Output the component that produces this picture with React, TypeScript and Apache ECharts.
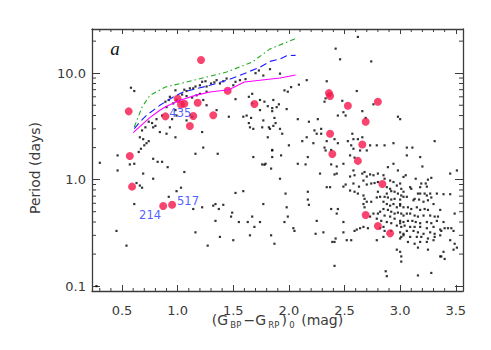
import React, { useEffect, useRef } from 'react';
import * as echarts from 'echarts';

// axis extents (colour index in mag, period in days)
const X_MIN = 0.23;
const X_MAX = 3.565;
const P_MIN = 0.09;
const P_MAX = 26;

// field stars: [colour, period]
const fieldUpperLeft: [number, number][] = [
  [0.58, 7.3], [0.61, 6.8], [0.98, 6.9], [1.06, 7.0], [1.08, 6.8], [1.11, 7.2], [1.14, 7.2], [1.16, 7.5], [1.2, 7.7], [1.22, 8.3],
  [1.25, 8.4], [1.26, 7.5], [1.3, 8.0], [1.33, 8.2], [1.35, 8.6], [1.38, 8.0], [1.41, 8.4], [1.44, 8.9], [1.5, 7.7], [1.52, 8.3],
  [1.56, 8.6], [1.61, 8.8], [1.7, 10.0], [1.73, 10.6], [1.77, 9.5], [1.83, 10.9], [1.92, 9.9], [1.04, 6.3], [1.08, 6.1], [1.13, 5.9],
  [1.17, 6.2], [1.2, 6.4], [1.26, 6.7], [0.93, 6.0], [0.92, 5.6], [0.89, 5.4], [0.9, 4.8], [0.96, 5.2], [0.99, 5.6], [0.98, 4.5],
  [1.23, 5.6], [1.52, 5.7], [1.67, 6.4], [1.64, 6.0], [1.74, 5.6], [1.78, 5.4], [1.81, 4.9], [1.86, 5.6], [1.89, 4.8], [1.67, 5.2],
  [1.74, 4.5], [1.59, 3.9], [1.62, 4.0], [1.66, 3.8], [1.77, 3.6], [1.64, 3.4], [1.65, 3.1], [1.68, 3.0], [1.76, 3.1], [1.82, 3.1],
  [1.86, 3.2], [1.81, 2.5], [1.46, 3.9], [1.35, 4.5], [1.13, 3.9], [0.99, 4.0], [0.93, 3.1], [0.77, 3.4], [0.8, 3.2], [0.78, 3.1],
  [0.74, 3.5], [0.71, 3.1], [0.68, 2.9], [0.66, 2.5], [0.69, 2.4], [0.72, 2.2], [0.74, 2.3], [0.84, 2.8], [0.9, 2.7], [0.98, 2.5],
  [1.23, 2.0], [0.95, 3.7], [0.86, 4.0], [0.81, 3.7], [1.22, 2.8], [1.08, 3.6], [1.26, 5.0],
];

const fieldUpperRight: [number, number][] = [
  [2.62, 21.9], [2.42, 17.0], [2.46, 13.5], [2.74, 12.9], [2.16, 8.6], [2.09, 7.8], [2.02, 7.4], [1.96, 6.9], [1.99, 6.7], [2.34, 8.4],
  [2.61, 6.8], [1.91, 5.1], [1.85, 4.7], [1.85, 4.4], [1.98, 4.6], [2.33, 5.8], [2.32, 5.4], [2.48, 5.5], [2.66, 4.4], [2.76, 5.1],
  [1.87, 3.8], [1.88, 3.4], [2.08, 3.7], [2.18, 3.5], [2.26, 3.7], [2.44, 4.0], [2.51, 4.0], [2.49, 4.3], [2.69, 3.8], [2.98, 3.9],
  [3.0, 3.7], [1.83, 3.0], [1.92, 3.0], [1.94, 2.7], [2.23, 2.9], [2.25, 2.7], [2.29, 3.0], [2.29, 2.7], [2.57, 2.7], [3.31, 2.3],
  [2.12, 2.3], [2.16, 2.5], [2.22, 2.2], [2.34, 2.3], [2.41, 2.4], [2.44, 2.2], [2.53, 2.3], [2.62, 2.4], [2.66, 2.5], [2.58, 2.4],
  [2.79, 2.1], [2.86, 2.1], [2.94, 2.2], [3.06, 2.0], [3.11, 2.0], [2.0, 2.1], [1.85, 1.9], [2.32, 2.0], [2.38, 1.9],
];

const fieldLowerLeft: [number, number][] = [
  [0.27, 0.1], [0.3, 1.44], [0.46, 1.69], [0.46, 1.22], [0.45, 0.33], [0.54, 0.24], [0.57, 1.39], [0.61, 1.41], [0.61, 0.59], [0.63, 0.93],
  [0.66, 0.88], [0.68, 0.84], [0.69, 1.14], [0.65, 1.82], [0.67, 1.95], [0.7, 2.1], [0.78, 1.57], [0.78, 1.02], [0.82, 1.47], [0.86, 1.47],
  [0.91, 1.31], [0.92, 0.69], [0.99, 0.78], [1.03, 0.84], [1.06, 1.18], [1.14, 0.53], [1.16, 1.75], [1.16, 0.32], [1.22, 0.55], [1.27, 0.24],
  [1.32, 0.57], [1.34, 0.59], [1.34, 0.41], [1.36, 1.75], [1.37, 0.53], [1.38, 0.29], [1.41, 0.58], [1.48, 0.45], [1.49, 0.49], [1.5, 0.27],
  [1.52, 0.75], [1.55, 0.4], [1.59, 0.78], [1.63, 0.4], [1.65, 0.3], [1.67, 0.45], [1.68, 1.63], [1.69, 0.36], [1.74, 0.4], [1.76, 1.39],
  [1.78, 1.38], [1.77, 0.59], [1.79, 1.41], [1.84, 1.27], [1.85, 1.88], [1.85, 1.63], [1.84, 0.3], [1.87, 0.25], [1.92, 1.02],
  [1.93, 1.69], [1.97, 0.74], [1.98, 0.55], [1.96, 0.4], [1.99, 0.45], [2.04, 0.35], [2.05, 0.33], [2.08, 1.41], [2.15, 1.39], [2.17, 1.63],
  [2.28, 1.14], [2.33, 1.88], [2.34, 0.85], [2.17, 0.77], [2.17, 0.65], [2.18, 0.58], [2.25, 0.41], [2.24, 0.31], [2.31, 0.32], [2.56, 2.1],
  [2.58, 1.95], [2.59, 1.61], [2.64, 1.88], [2.7, 1.88], [2.73, 2.1], [3.06, 1.69], [3.18, 1.63], [2.41, 0.155], [3.28, 0.133], [3.16, 0.126],
  [2.87, 0.138], [2.88, 0.124], [2.55, 1.69],
];

const fieldClusterWest: [number, number][] = [
  [2.38, 1.39], [2.43, 1.33], [2.49, 1.41], [2.41, 1.12], [2.43, 1.14], [2.55, 1.07], [2.58, 1.22], [2.59, 1.1], [2.58, 0.92], [2.51, 0.9],
  [2.49, 0.86], [2.55, 0.79], [2.59, 0.77], [2.63, 0.86], [2.66, 1.14], [2.68, 1.18], [2.7, 1.07], [2.73, 1.12], [2.76, 1.1], [2.8, 1.14],
  [2.85, 1.1], [2.86, 1.02], [2.67, 0.98], [2.7, 0.9], [2.74, 0.92], [2.77, 0.93], [2.8, 0.95], [2.89, 1.31], [2.94, 1.41], [2.98, 1.22],
  [3.03, 1.06], [2.91, 0.98], [2.94, 0.95], [2.97, 0.88], [3.0, 0.92], [3.01, 0.82], [2.88, 0.85], [2.91, 0.82], [2.92, 0.78], [2.95, 0.77],
  [2.98, 0.74], [3.01, 0.71], [2.88, 0.74], [2.86, 0.69], [2.89, 0.68], [2.92, 0.65], [2.95, 0.66], [3.0, 0.65], [3.03, 0.69], [2.85, 0.62],
  [2.88, 0.59], [2.91, 0.57], [2.94, 0.59], [2.97, 0.55], [3.0, 0.57], [3.03, 0.55], [2.8, 0.77], [2.82, 0.69], [2.79, 0.68], [2.67, 0.71],
  [2.68, 0.66], [2.7, 0.62], [2.67, 0.59], [2.74, 0.62], [2.68, 0.55], [2.62, 0.74], [2.85, 0.53], [2.89, 0.52], [2.92, 0.5], [2.95, 0.48],
  [2.98, 0.49], [3.01, 0.48], [3.03, 0.46], [2.82, 0.5], [2.86, 0.46], [2.91, 0.45], [2.95, 0.43], [3.0, 0.41], [3.03, 0.4], [2.79, 0.43],
  [2.83, 0.41], [2.88, 0.4], [2.92, 0.39], [2.97, 0.37], [3.01, 0.36], [2.85, 0.36], [2.8, 0.48], [2.76, 0.48], [2.73, 0.45], [2.67, 0.36],
  [2.64, 0.35], [2.59, 0.33], [2.61, 0.34], [2.71, 0.35], [2.82, 0.35], [2.86, 0.33], [2.92, 0.33], [3.0, 0.32], [3.03, 0.31], [3.0, 0.28],
  [3.01, 0.29], [2.79, 0.27], [2.85, 0.29], [2.52, 0.27], [2.56, 0.27], [2.49, 0.32], [2.38, 0.53], [2.43, 0.48], [2.44, 0.53], [2.49, 0.4],
  [2.37, 0.85], [2.39, 0.26], [2.42, 0.28], [2.41, 0.26], [3.0, 0.21], [2.97, 0.22], [3.01, 0.17], [3.01, 0.19],
];

const fieldClusterEast: [number, number][] = [
  [3.2, 1.33], [3.05, 1.1], [3.14, 1.02], [3.19, 0.92], [3.23, 0.92], [3.18, 0.85], [3.25, 1.0], [3.28, 1.04], [3.24, 0.86], [3.09, 0.85],
  [3.1, 0.82], [3.16, 0.74], [3.18, 0.74], [3.22, 0.74], [3.24, 0.71], [3.27, 0.74], [3.33, 0.74], [3.39, 0.73], [3.45, 0.73], [3.45, 1.14],
  [3.51, 1.22], [3.03, 0.77], [3.06, 0.69], [3.12, 0.64], [3.13, 0.66], [3.17, 0.65], [3.21, 0.62], [3.25, 0.64], [3.28, 0.68], [3.3, 0.59],
  [3.0, 0.59], [3.07, 0.55], [3.1, 0.53], [3.15, 0.55], [3.18, 0.52], [3.22, 0.53], [3.25, 0.52], [3.36, 0.52], [3.49, 0.48], [3.06, 0.48],
  [3.09, 0.48], [3.13, 0.46], [3.16, 0.45], [3.21, 0.46], [3.27, 0.46], [3.31, 0.45], [3.34, 0.45], [3.07, 0.41], [3.11, 0.41], [3.14, 0.4],
  [3.18, 0.39], [3.24, 0.4], [3.28, 0.39], [3.33, 0.41], [3.39, 0.4], [3.0, 0.39], [3.04, 0.37], [3.09, 0.36], [3.13, 0.36], [3.18, 0.36],
  [3.24, 0.35], [3.3, 0.36], [3.36, 0.34], [3.4, 0.35], [3.43, 0.35], [3.46, 0.35], [3.06, 0.33], [3.12, 0.33], [3.16, 0.32], [3.21, 0.31],
  [3.27, 0.32], [3.31, 0.31], [3.37, 0.33], [3.48, 0.33], [3.03, 0.3], [3.09, 0.29], [3.15, 0.29], [3.19, 0.29], [3.25, 0.28], [3.31, 0.29],
  [3.36, 0.3], [3.07, 0.26], [3.13, 0.25], [3.18, 0.26], [3.24, 0.26], [3.3, 0.27], [3.45, 0.27], [3.49, 0.25], [3.16, 0.23], [3.25, 0.22],
  [3.51, 0.23], [3.48, 0.22], [3.39, 0.21], [3.37, 0.19], [3.4, 0.18], [3.36, 0.19],
];

// highlighted members (red)
const members: [number, number][] = [
  [0.56, 4.38], [1.21, 13.3], [1.0, 5.76], [1.06, 5.17], [1.03, 5.09], [1.18, 5.28], [1.45, 6.85], [0.89, 3.93], [1.14, 3.96], [1.32, 4.02],
  [1.11, 3.19], [1.69, 5.13], [0.57, 1.67], [0.59, 0.86], [0.87, 0.565], [0.95, 0.582], [2.36, 6.5], [2.37, 6.1], [2.53, 4.95], [2.8, 5.4],
  [2.69, 3.5], [2.37, 2.7], [2.66, 2.14], [2.39, 1.74], [2.62, 1.5], [2.84, 0.91], [2.69, 0.465], [2.8, 0.367], [2.91, 0.313],
];

// model sequences
const curveSolid: [number, number][] = [
  [0.6, 2.76], [0.75, 3.82], [0.84, 4.48], [0.9, 4.89], [1.02, 5.56], [1.16, 6.19], [1.29, 6.65], [1.46, 7.0], [1.6, 8.26], [1.92, 9.0], [2.06, 9.6],
];
const curveDashed: [number, number][] = [
  [0.61, 3.01], [0.66, 3.48], [0.72, 4.02], [0.84, 4.99], [0.96, 5.97], [1.05, 6.65], [1.29, 7.69], [1.44, 8.57], [1.56, 9.55], [1.74, 11.4],
  [1.83, 12.9], [1.92, 13.6], [1.98, 14.6], [2.06, 14.7],
];
const curveDashDot: [number, number][] = [
  [0.61, 3.12], [0.68, 4.81], [0.75, 6.19], [0.89, 7.41], [1.14, 8.56], [1.44, 10.24], [1.67, 12.7], [1.83, 16.9], [2.06, 21.1],
];

// star identifiers
const idLabels = [
  { id: '435', x: 1.024, p: 4.19 },
  { id: '517', x: 1.093, p: 0.635 },
  { id: '214', x: 0.752, p: 0.465 },
];

// x-axis title pieces: [text, isSubscript]
const xTitlePieces: [string, boolean][] = [
  ['(G', false], ['BP', true], ['\u2212G', false], ['RP', true], [')', false], ['0', true], [' (mag)', false],
];

const yMinorTicks = [0.2, 0.3, 0.4, 0.5, 0.6, 0.7, 0.8, 0.9, 2, 3, 4, 5, 6, 7, 8, 9, 20];

const App = () => {
  const ref = useRef<HTMLDivElement>(null);
  useEffect(() => {
    const chart = echarts.init(ref.current!, null, { renderer: 'svg' });
    const axisColor = '#3c3c3c';
    const font = 'DejaVu Sans';
    const textColor = '#3a3a3a';
    const xFmt = (v: number) => (Math.abs(v * 2 - Math.round(v * 2)) < 1e-6 ? v.toFixed(1) : '');
    const yFmt = (v: number) => {
      const l = Math.log10(v);
      return Math.abs(l - Math.round(l)) < 1e-6 ? v.toFixed(1) : '';
    };
    const lineStyle = { color: axisColor, width: 1.3 };
    const xBase: any = {
      type: 'value', min: X_MIN, max: X_MAX, splitLine: { show: false },
      axisLine: { show: true, onZero: false, lineStyle },
    };
    const yBase: any = {
      type: 'log', logBase: 10, min: P_MIN, max: P_MAX, splitLine: { show: false },
      axisLine: { show: true, onZero: false, lineStyle },
    };
    const scatterBase = { type: 'scatter', xAxisIndex: 0, yAxisIndex: 0, silent: true };
    const field = [...fieldUpperLeft, ...fieldUpperRight, ...fieldLowerLeft, ...fieldClusterWest, ...fieldClusterEast];

    chart.setOption({
      animation: false,
      backgroundColor: '#ffffff',
      grid: { left: 92, right: 28, top: 29, bottom: 59 },
      xAxis: [
        {
          ...xBase, position: 'bottom',
          axisTick: { show: true, inside: true, length: 6, lineStyle: { color: axisColor, width: 1 } },
          axisLabel: { show: true, formatter: xFmt, margin: 13, color: textColor, fontFamily: font, fontSize: 13 },
        },
        {
          ...xBase, position: 'top',
          axisTick: { show: true, inside: true, length: 5, lineStyle: { color: axisColor, width: 1 } },
          axisLabel: { show: false },
        },
      ],
      yAxis: [
        {
          ...yBase, position: 'left',
          axisTick: { show: true, inside: true, length: 8, lineStyle: { color: axisColor, width: 1 } },
          axisLabel: { show: true, formatter: yFmt, margin: 6, color: textColor, fontFamily: font, fontSize: 13 },
        },
        {
          ...yBase, position: 'right',
          axisTick: { show: true, inside: true, length: 8, lineStyle: { color: axisColor, width: 1 } },
          axisLabel: { show: false },
        },
      ],
      series: [
        {
          ...scatterBase, name: 'field', data: field, symbol: 'rect', symbolSize: 2.2,
          itemStyle: { color: '#000000' },
        },
        {
          type: 'line', name: 'solid', data: curveSolid, showSymbol: false, symbol: 'none', silent: true,
          lineStyle: { color: '#ff00ff', width: 1.1 },
        },
        {
          type: 'line', name: 'dashed', data: curveDashed, showSymbol: false, symbol: 'none', silent: true,
          lineStyle: { color: '#1a1aff', width: 1.1, type: [7, 4] },
        },
        {
          type: 'line', name: 'dashdot', data: curveDashDot, showSymbol: false, symbol: 'none', silent: true,
          lineStyle: { color: '#22aa22', width: 1.1, type: [5, 3, 1.5, 3] },
        },
        {
          ...scatterBase, name: 'members', data: members, symbol: 'circle', symbolSize: 8,
          itemStyle: { color: '#f5174c' },
        },
        {
          ...scatterBase, name: 'ids', symbolSize: 0,
          data: idLabels.map((d) => ({ value: [d.x, d.p], name: d.id })),
          label: {
            show: true, position: 'inside', formatter: '{b}', color: '#2035ff',
            fontFamily: font, fontSize: 11.5,
          },
        },
      ],
    });

    const toPx = (x: number, p: number) => chart.convertToPixel({ xAxisIndex: 0, yAxisIndex: 0 }, [x, p]) as number[];
    const [xl, yb] = toPx(X_MIN, P_MIN);
    const [xr, yt] = toPx(X_MAX, P_MAX);
    const tickStyle = { stroke: axisColor, lineWidth: 1 };
    const graphics: any[] = [];
    for (let k = 3; k <= 35; k++) {
      if (k % 5 === 0) continue;
      const v = k / 10;
      if (v <= X_MIN || v >= X_MAX) continue;
      const [px] = toPx(v, 1);
      graphics.push({ type: 'line', shape: { x1: px, y1: yb, x2: px, y2: yb - 3 }, style: tickStyle, silent: true });
      graphics.push({ type: 'line', shape: { x1: px, y1: yt, x2: px, y2: yt + 3 }, style: tickStyle, silent: true });
    }
    yMinorTicks.forEach((v) => {
      const [, py] = toPx(1, v);
      graphics.push({ type: 'line', shape: { x1: xl, y1: py, x2: xl + 4, y2: py }, style: tickStyle, silent: true });
      graphics.push({ type: 'line', shape: { x1: xr, y1: py, x2: xr - 4, y2: py }, style: tickStyle, silent: true });
    });
    graphics.push({
      type: 'text', x: xl + 23, y: yt + 19, silent: true,
      style: { text: 'a', fill: '#111', font: 'italic 19px "Liberation Serif"', align: 'center', verticalAlign: 'middle' },
    });
    graphics.push({
      type: 'text', x: 35, y: 168, rotation: Math.PI / 2, silent: true,
      style: { text: 'Period (days)', fill: textColor, fontFamily: font, fontSize: 14, align: 'center', verticalAlign: 'middle' },
    });

    // x title built from pieces measured with canvas
    const ctx = document.createElement('canvas').getContext('2d')!;
    const mainSize = 14;
    const subSize = 8.5;
    const gap = 2.2;
    const widths = xTitlePieces.map(([t, sub]) => {
      ctx.font = `${sub ? subSize : mainSize}px "${font}"`;
      return ctx.measureText(t).width;
    });
    const total = widths.reduce((a, b) => a + b, 0) + gap * (xTitlePieces.length - 1);
    let cx = (xl + xr) / 2 - total / 2;
    const titleY = 320;
    xTitlePieces.forEach(([t, sub], i) => {
      graphics.push({
        type: 'text', x: cx, y: sub ? titleY + 4.5 : titleY, silent: true,
        style: {
          text: t, fill: textColor, fontFamily: font, fontSize: sub ? subSize : mainSize,
          align: 'left', verticalAlign: 'middle',
        },
      });
      cx += widths[i] + gap;
    });

    chart.setOption({ graphic: graphics });

    return () => chart.dispose();
  }, []);
  return (
    <div
      ref={ref}
      style={{ position: 'fixed', left: 0, top: 0, width: 491, height: 350, background: '#fff' }}
    />
  );
};

export default App;
